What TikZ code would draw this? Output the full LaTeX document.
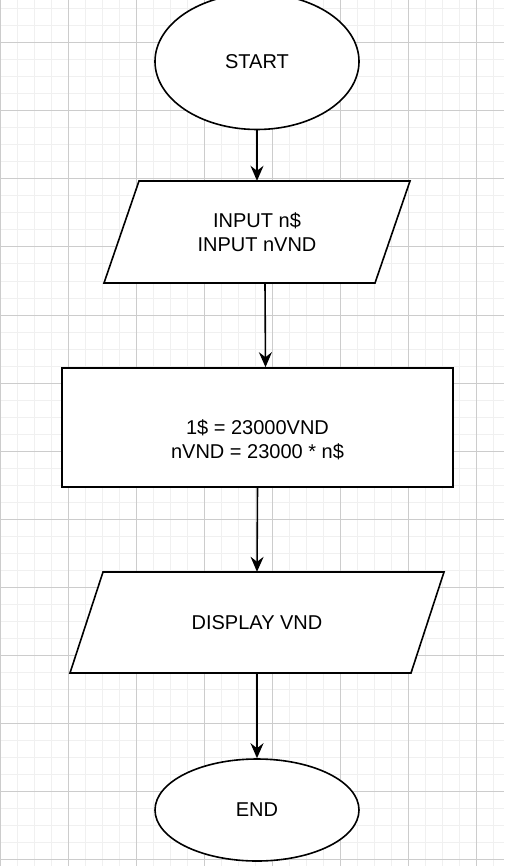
\documentclass[tikz,border=0pt]{standalone}
\usepackage{fontspec}
\setmainfont{Liberation Sans}
\usetikzlibrary{shapes.geometric,arrows.meta,positioning}
\tikzstyle{startstop}=[ellipse,draw,line width=1.6pt,fill=white,minimum width=204pt,inner sep=0pt]
\tikzstyle{iobox}=[rectangle,inner sep=0pt,align=center]
\tikzstyle{ioshape}=[draw,line width=1.6pt,fill=white,line join=miter]
\tikzstyle{process}=[rectangle,draw,line width=1.6pt,fill=white,minimum width=391pt,minimum height=119pt,inner sep=0pt,align=center]
\tikzstyle{edge}=[draw,line width=1.6pt,-{Stealth[length=15pt,width=13pt,inset=5pt]}]
\tikzstyle{minorline}=[draw=black!6,line width=1pt]
\tikzstyle{majorline}=[draw=black!20,line width=1pt]

\begin{document}
\begin{tikzpicture}[x=1pt,y=-1pt,font=\fontsize{20}{24}\selectfont]
  \useasboundingbox (0,0) rectangle (504,866);
  \fill[white] (0,0) rectangle (504,866);

  % grid paper
  \foreach \x in {0,17,...,504} \draw[minorline] (\x,0) -- (\x,866);
  \foreach \y in {9,26,...,866} \draw[minorline] (0,\y) -- (504,\y);
  \foreach \x in {0,68,...,504} \draw[majorline] (\x,0) -- (\x,866);
  \foreach \y in {43,111,...,866} \draw[majorline] (0,\y) -- (504,\y);

  % parallelograms
  \coordinate (inputc) at (257,232);
  \coordinate (displayc) at (257,622.5);
  \path[ioshape] ([shift={(-153,51)}]inputc) -- ([shift={(-118,-51)}]inputc)
     -- ([shift={(153,-51)}]inputc) -- ([shift={(118,51)}]inputc) -- cycle;
  \path[ioshape] ([shift={(-187,50.5)}]displayc) -- ([shift={(-154,-50.5)}]displayc)
     -- ([shift={(187,-50.5)}]displayc) -- ([shift={(154,50.5)}]displayc) -- cycle;

  \node[startstop,minimum height=136pt] (start) at (257,61.5) {START};
  \node[iobox,minimum width=272pt,minimum height=102pt] (input) at (inputc) {INPUT n\$\\INPUT nVND};
  \node[process,label={[align=center,yshift=-12pt]center:1\$ = 23000VND\\nVND = 23000 * n\$}] (calc) at (257.5,427.5) {};
  \node[iobox,minimum width=341pt,minimum height=101pt] (display) at (displayc) {DISPLAY VND};
  \node[startstop,minimum height=102pt] (end) at (257,810) {END};

  \path[edge] (start) -- (input);
  \path[edge] ([xshift=8pt]input.south) -- ([xshift=8pt]calc.north);
  \path[edge] (calc.south) -- (display.north);
  \path[edge] (display) -- (end);

\end{tikzpicture}
\end{document}
